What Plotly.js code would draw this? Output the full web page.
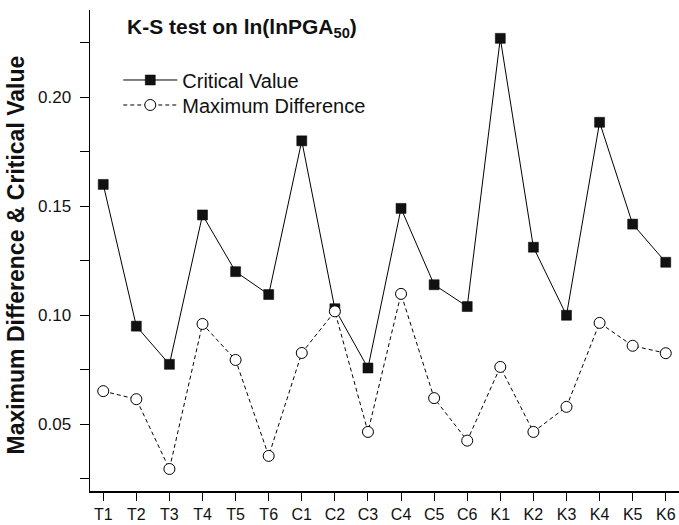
<!DOCTYPE html>
<html>
<head>
<meta charset="utf-8">
<script src="https://cdn.plot.ly/plotly-3.0.1.min.js"></script>
<style>
  html, body { margin: 0; padding: 0; background: #fff; }
  #chart { width: 679px; height: 525px; }
</style>
</head>
<body>
<div id="chart"></div>
<script>
// Station groups along the x axis
const stations = ["T1", "T2", "T3", "T4", "T5", "T6",
                  "C1", "C2", "C3", "C4", "C5", "C6",
                  "K1", "K2", "K3", "K4", "K5", "K6"];

// K-S critical value per station
const criticalValue = [0.160, 0.095, 0.0775, 0.146, 0.120, 0.1095,
                       0.180, 0.103, 0.0758, 0.149, 0.114, 0.104,
                       0.227, 0.1312, 0.100, 0.1885, 0.1418, 0.1243];

// Maximum difference between empirical and fitted CDF
const maxDifference = [0.0652, 0.0615, 0.0295, 0.096, 0.0795, 0.0355,
                       0.0827, 0.1018, 0.0465, 0.1098, 0.062, 0.0425,
                       0.0763, 0.0465, 0.058, 0.0965, 0.086, 0.0826];

const yTicks = [0.05, 0.10, 0.15, 0.20];
const yMinorTicks = [0.025, 0.075, 0.125, 0.175, 0.225];

const FONT = "Liberation Sans, Arial, Helvetica, sans-serif";

const traces = [
  {
    x: stations,
    y: criticalValue,
    name: "Critical Value",
    legend: "legend",
    type: "scatter",
    mode: "lines+markers",
    line: { color: "#000", width: 1 },
    marker: { symbol: "square", size: 10, color: "#111", line: { color: "#000", width: 0.5 } }
  },
  {
    x: stations,
    y: maxDifference,
    name: "Maximum Difference",
    legend: "legend2",
    type: "scatter",
    mode: "lines+markers",
    line: { color: "#000", width: 1, dash: "4px,3px" },
    // white-filled circles so the dashed line stops at each marker edge
    marker: { symbol: "circle", size: 11, color: "#fff", line: { color: "#000", width: 1 } }
  }
];

// one legend box per series so each row can be placed on its own
const legendStyle = (y) => ({
  x: 0.048, y: y, xanchor: "left", yanchor: "middle",
  bgcolor: "rgba(0,0,0,0)",
  font: { family: FONT, size: 20, color: "#111" },
  itemwidth: 54
});

const layout = {
  width: 679,
  height: 525,
  margin: { l: 90, r: 0, t: 10, b: 34 },
  paper_bgcolor: "#fff",
  plot_bgcolor: "#fff",
  font: { family: FONT, color: "#111", size: 16 },
  showlegend: true,
  legend: legendStyle(0.8545),
  legend2: legendStyle(0.8025),
  xaxis: {
    type: "category",
    range: [-0.4, 17.4],
    showgrid: false,
    zeroline: false,
    showline: true,
    linecolor: "#000",
    linewidth: 1.5,
    ticks: "outside",
    ticklen: 8,
    tickwidth: 1,
    tickcolor: "#000",
    tickfont: { family: FONT, size: 16, color: "#111" }
  },
  yaxis: {
    range: [0.0194, 0.2400],
    tickvals: yTicks,
    ticktext: yTicks.map(v => v.toFixed(2)),
    showgrid: false,
    zeroline: false,
    showline: true,
    linecolor: "#000",
    linewidth: 1.5,
    ticks: "outside",
    ticklen: 9,
    tickwidth: 1,
    tickcolor: "#000",
    ticklabelstandoff: 5,
    tickfont: { family: FONT, size: 17, color: "#111" },
    minor: { tickvals: yMinorTicks, ticks: "outside", ticklen: 9, tickwidth: 1, tickcolor: "#000" }
  },
  annotations: [
    {
      xref: "paper", yref: "paper",
      x: 0.06, y: 0.962, xanchor: "left", yanchor: "middle",
      text: "<b>K-S test on ln(lnPGA<sub>50</sub>)</b>",
      showarrow: false,
      font: { family: FONT, size: 21, color: "#111" }
    },
    {
      xref: "paper", yref: "paper",
      x: -0.1248, y: 0.4906, xanchor: "center", yanchor: "middle",
      textangle: -90,
      text: "<b>Maximum Difference & Critical Value</b>",
      showarrow: false,
      font: { family: FONT, size: 23, color: "#111" }
    }
  ]
};

Plotly.newPlot("chart", traces, layout, { displayModeBar: false, staticPlot: true });
</script>
</body>
</html>
